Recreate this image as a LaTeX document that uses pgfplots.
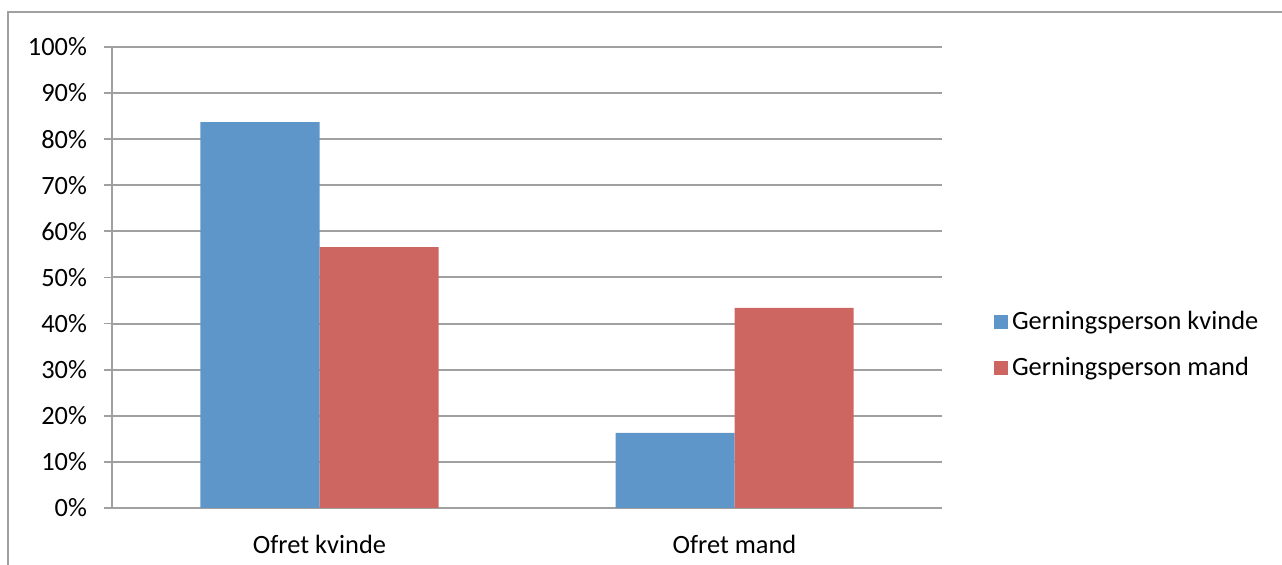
\documentclass[border=0pt]{standalone}
\usepackage{pgfplots}
\pgfplotsset{compat=1.18}
\usepackage{fontspec}
\setmainfont{Carlito}
\definecolor{barblue}{HTML}{5F96C9}
\definecolor{barred}{HTML}{CD6660}
\definecolor{gridgray}{HTML}{A0A0A0}
\begin{document}
\begin{tikzpicture}
\useasboundingbox (0,0) rectangle (641pt,282.5pt);
\draw[gridgray, line width=0.8pt] (4pt,-5pt) -- (4pt,276.5pt) -- (650pt,276.5pt);
\begin{axis}[
  at={(56pt,28.5pt)}, anchor=south west,
  scale only axis, width=415pt, height=230.5pt,
  ybar, ybar=0pt, bar width=59.5pt,
  xmin=-0.5, xmax=1.5, ymin=0, ymax=100,
  axis x line*=bottom, axis y line*=left,
  axis line style={gridgray, line width=0.9pt},
  xtick={0,1}, xticklabels={Ofret kvinde, Ofret mand},
  major x tick style={draw=none},
  extra x ticks={-0.5,0.5,1.5}, extra x tick labels={},
  extra x tick style={grid=none, major tick length=4pt, tick style={gridgray, line width=0.9pt}},
  ytick={0,10,...,100},
  yticklabels={0\%,10\%,20\%,30\%,40\%,50\%,60\%,70\%,80\%,90\%,100\%},
  tick align=outside, major tick length=4pt,
  ytick style={gridgray, line width=0.9pt},
  ymajorgrids, grid style={gridgray, line width=1pt},
  tick label style={font=\fontsize{13.2}{15}\selectfont, black},
  yticklabel style={xshift=-5pt},
  xticklabel style={yshift=-6pt},
  legend style={at={(1.055,0.354)}, anchor=west, draw=none, fill=none,
    font=\fontsize{13.2}{15}\selectfont, row sep=8.5pt,
    legend cell align=left},
  legend image code/.code={\fill[#1] (0pt,-3.5pt) rectangle (7pt,3.5pt);},
]
\addplot[fill=barblue, draw=none] coordinates {(0,83.7) (1,16.3)};
\addplot[fill=barred, draw=none] coordinates {(0,56.6) (1,43.4)};
\legend{Gerningsperson kvinde, Gerningsperson mand}
\end{axis}
\end{tikzpicture}
\end{document}
